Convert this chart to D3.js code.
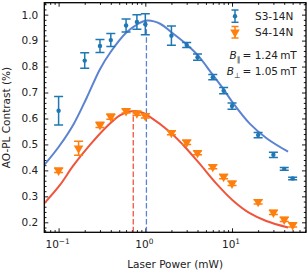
<!DOCTYPE html>
<html>
<head>
<meta charset="utf-8">
<script src="https://cdn.jsdelivr.net/npm/d3@7"></script>
<style>
  body { margin: 0; background: #fff; }
  svg { display: block; font-family: "DejaVu Sans", sans-serif; }
</style>
</head>
<body>
<div id="chart"></div>
<script>
// measured points
const power = [0.1, 0.2, 0.3, 0.4, 0.6, 0.8, 1, 2, 3, 4, 6, 8, 10, 20, 30, 40, 50];
const s3 = [0.630, 0.823, 0.879, 0.902, 0.958, 0.972, 0.963, 0.919, 0.883, 0.836, 0.759, 0.707, 0.648, 0.536, 0.460, 0.406, 0.369];
const s3Err = [0.055, 0.030, 0.025, 0.025, 0.025, 0.028, 0.040, 0.037, 0.010, 0.012, 0.010, 0.012, 0.012, 0.010, 0.010, 0.005, 0.005];

const power4 = [0.1, 0.17, 0.3, 0.4, 0.6, 0.8, 1, 2, 3, 4, 6, 8, 10, 20, 30, 40, 50];
const s4 = [0.400, 0.485, 0.575, 0.607, 0.629, 0.620, 0.610, 0.545, 0.508, 0.468, 0.414, 0.376, 0.350, 0.279, 0.238, 0.211, 0.190];
const s4Err = [0.008, 0.027, 0.010, 0.010, 0.008, 0.008, 0.008, 0.008, 0.008, 0.008, 0.008, 0.008, 0.008, 0.008, 0.008, 0.008, 0.008];

// fit curves
const fit3X = [0.0684, 0.1, 0.15, 0.211, 0.3, 0.4, 0.6, 0.8, 1.05, 1.5, 2, 3, 4, 6, 8, 10, 16, 25, 44.3];
const fit3Y = [0.421, 0.490, 0.580, 0.680, 0.790, 0.857, 0.930, 0.962, 0.977, 0.964, 0.932, 0.885, 0.845, 0.768, 0.712, 0.665, 0.580, 0.524, 0.472];
const fit4X = [0.0684, 0.1038, 0.1475, 0.23, 0.358, 0.509, 0.665, 0.80, 0.95, 1.12, 1.91, 2.73, 4.25, 6.6, 10.3, 16, 24.8, 44.3];
const fit4Y = [0.273, 0.344, 0.418, 0.498, 0.568, 0.612, 0.627, 0.628, 0.621, 0.607, 0.549, 0.498, 0.425, 0.349, 0.283, 0.235, 0.205, 0.180];

const peak3 = [1.03, 0.977];
const peak4 = [0.726, 0.628];

const xMajor = [0.1, 1, 10];
const xExp = ["\u22121", "0", "1"];
const yMajor = [0.2, 0.3, 0.4, 0.5, 0.6, 0.7, 0.8, 0.9, 1.0];

const W = 307, H = 271;
const L = 44.3, R = 306, T = 2.7, B = 232.3;
const blue = "#1f77b4", orange = "#ff7f0e";
const blueFit = "#5b83d1", redFit = "#ef553c";
const fs = 10.5;

const svg = d3.select("#chart").append("svg")
  .attr("width", W).attr("height", H);

const x = d3.scaleLog().domain([0.0684, 71.3]).range([L, R]);
const y = d3.scaleLinear().domain([0.1615, 1.046]).range([B, T]);

const xMinor = [];
[0.01, 0.1, 1, 10].forEach(d => { for (let k = 2; k <= 9; k++) xMinor.push(d * k); });
const xMinorIn = xMinor.filter(v => v >= 0.0684 && v <= 71.3);
const yMinor = d3.range(0.18, 1.045, 0.02).filter(v => Math.abs(v * 10 - Math.round(v * 10)) > 0.01);

const clean = g => { g.select(".domain").remove(); g.selectAll("line").attr("stroke", "#000").attr("stroke-width", 0.9); };

// ticks, all inward
svg.append("g").attr("transform", `translate(0,${B})`)
  .call(d3.axisBottom(x).tickValues(xMinorIn).tickSize(-2.2).tickFormat(""))
  .call(clean);
svg.append("g").attr("transform", `translate(0,${B})`)
  .call(d3.axisBottom(x).tickValues(xMajor).tickSize(-4).tickFormat(""))
  .call(clean);
svg.append("g").attr("transform", `translate(0,${T})`)
  .call(d3.axisTop(x).tickValues(xMinorIn).tickSize(-2.2).tickFormat(""))
  .call(clean);
svg.append("g").attr("transform", `translate(0,${T})`)
  .call(d3.axisTop(x).tickValues(xMajor).tickSize(-4).tickFormat(""))
  .call(clean);

svg.append("g").attr("transform", `translate(${L},0)`)
  .call(d3.axisLeft(y).tickValues(yMinor).tickSize(-2.2).tickFormat(""))
  .call(clean);
svg.append("g").attr("transform", `translate(${L},0)`)
  .call(d3.axisLeft(y).tickValues(yMajor).tickSize(-4).tickPadding(6).tickFormat(d3.format(".1f")))
  .call(clean)
  .call(g => g.selectAll("text").attr("font-size", fs).attr("fill", "#222").attr("font-family", "DejaVu Sans"));
svg.append("g").attr("transform", `translate(${R},0)`)
  .call(d3.axisRight(y).tickValues(yMinor).tickSize(-2.2).tickFormat(""))
  .call(clean);
svg.append("g").attr("transform", `translate(${R},0)`)
  .call(d3.axisRight(y).tickValues(yMajor).tickSize(-4).tickFormat(""))
  .call(clean);

// x tick labels with exponents
xMajor.forEach((v, i) => {
  const t = svg.append("text")
    .attr("x", x(v) - 1).attr("y", 248.3)
    .attr("text-anchor", "middle")
    .attr("font-size", fs).attr("fill", "#222");
  t.append("tspan").text("10");
  t.append("tspan").attr("font-size", 7.4).attr("dy", -4.6).text(xExp[i]);
});

// axis labels
svg.append("text").attr("x", (L + R) / 2).attr("y", 268)
  .attr("text-anchor", "middle").attr("font-size", fs).attr("fill", "#222")
  .text("Laser Power (mW)");
svg.append("text")
  .attr("transform", `translate(9.5,${(T + B) / 2}) rotate(-90)`)
  .attr("text-anchor", "middle").attr("font-size", fs).attr("fill", "#222")
  .text("AO-PL Contrast (%)");

const plot = svg.append("g");
plot.append("clipPath").attr("id", "clip")
  .append("rect").attr("x", L).attr("y", T).attr("width", R - L).attr("height", B - T);
const inner = plot.append("g").attr("clip-path", "url(#clip)");

// fit curves
const line = d3.line().x(d => x(d[0])).y(d => y(d[1])).curve(d3.curveCatmullRom.alpha(0.5));
inner.append("path").datum(d3.zip(fit3X, fit3Y))
  .attr("d", line).attr("fill", "none").attr("stroke", blueFit).attr("stroke-width", 2);
inner.append("path").datum(d3.zip(fit4X, fit4Y))
  .attr("d", line).attr("fill", "none").attr("stroke", redFit).attr("stroke-width", 2);

// peak markers
[[peak3, blueFit], [peak4, redFit]].forEach(([p, c]) => {
  inner.append("line")
    .attr("x1", x(p[0])).attr("x2", x(p[0]))
    .attr("y1", B).attr("y2", y(p[1]))
    .attr("stroke", c).attr("stroke-width", 1.3).attr("stroke-dasharray", "5.5,2.4");
});

// error bars
function errorBars(xs, ys, es, color, cap) {
  const g = inner.append("g").attr("stroke", color).attr("stroke-width", 1.5);
  xs.forEach((v, i) => {
    const cx = x(v), y0 = y(ys[i] - es[i]), y1 = y(ys[i] + es[i]);
    g.append("line").attr("x1", cx).attr("x2", cx).attr("y1", y0).attr("y2", y1);
    g.append("line").attr("x1", cx - cap).attr("x2", cx + cap).attr("y1", y0).attr("y2", y0);
    g.append("line").attr("x1", cx - cap).attr("x2", cx + cap).attr("y1", y1).attr("y2", y1);
  });
}
errorBars(power, s3, s3Err, blue, 4.5);
errorBars(power4, s4, s4Err, orange, 4.5);

inner.selectAll(".dot").data(d3.zip(power, s3)).join("circle")
  .attr("cx", d => x(d[0])).attr("cy", d => y(d[1])).attr("r", 2.2)
  .attr("fill", blue);

const tri = d3.symbol().type(d3.symbolTriangle).size(40);
inner.selectAll(".tri").data(d3.zip(power4, s4)).join("path")
  .attr("d", tri)
  .attr("transform", d => `translate(${x(d[0])},${y(d[1])}) rotate(180)`)
  .attr("fill", orange);

// frame
svg.append("rect").attr("x", L).attr("y", T).attr("width", R - L).attr("height", B - T)
  .attr("fill", "none").attr("stroke", "#000").attr("stroke-width", 1.3);

// legend
const lg = svg.append("g");
const lx = 235;
lg.append("g").attr("stroke", blue).attr("stroke-width", 1.5)
  .call(g => {
    g.append("line").attr("x1", lx).attr("x2", lx).attr("y1", 10).attr("y2", 22.3);
    g.append("line").attr("x1", lx - 3.5).attr("x2", lx + 3.5).attr("y1", 10).attr("y2", 10);
    g.append("line").attr("x1", lx - 3.5).attr("x2", lx + 3.5).attr("y1", 22.3).attr("y2", 22.3);
  });
lg.append("circle").attr("cx", lx).attr("cy", 16.2).attr("r", 2.2).attr("fill", blue);
lg.append("g").attr("stroke", orange).attr("stroke-width", 1.5)
  .call(g => {
    g.append("line").attr("x1", lx).attr("x2", lx).attr("y1", 26.5).attr("y2", 38);
    g.append("line").attr("x1", lx - 3.5).attr("x2", lx + 3.5).attr("y1", 26.5).attr("y2", 26.5);
    g.append("line").attr("x1", lx - 3.5).attr("x2", lx + 3.5).attr("y1", 38).attr("y2", 38);
  });
lg.append("path").attr("d", tri).attr("transform", `translate(${lx},32.3) rotate(180)`).attr("fill", orange);
lg.append("text").attr("x", 255).attr("y", 19.8).attr("font-size", fs).attr("fill", "#222").text("S3-14N");
lg.append("text").attr("x", 255).attr("y", 36.2).attr("font-size", fs).attr("fill", "#222").text("S4-14N");

// field annotations
const fields = [["\u2225", "1.24", 59.3], ["\u22a5", "1.05", 75.3]];
fields.forEach(f => {
  const t = svg.append("text").attr("x", 296.8).attr("y", f[2])
    .attr("text-anchor", "end").attr("font-size", fs).attr("fill", "#222");
  t.append("tspan").attr("font-style", "italic").text("B");
  t.append("tspan").attr("font-size", 7.4).attr("dy", 2.2).text(f[0]);
  t.append("tspan").attr("dy", -2.2).text("\u2009= " + f[1] + "\u2009mT");
});
</script>
</body>
</html>
